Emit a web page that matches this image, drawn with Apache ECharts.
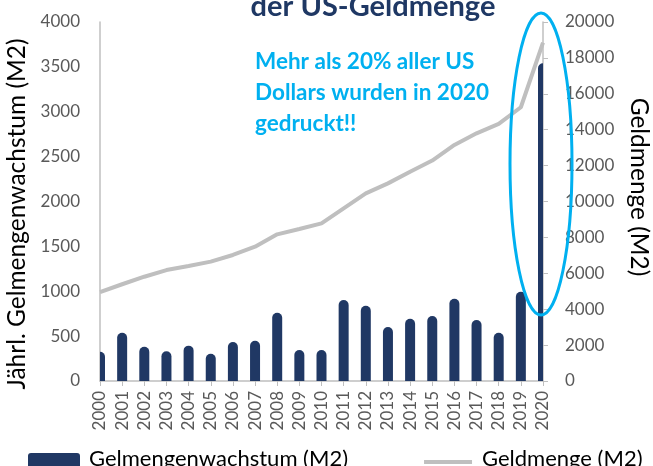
<!DOCTYPE html>
<html>
<head>
<meta charset="utf-8">
<script src="https://cdn.jsdelivr.net/npm/echarts@6/dist/echarts.min.js"></script>
<style>
    html, body { margin: 0; padding: 0; background: #fff; }
    #chart { width: 653px; height: 466px; }
</style>
</head>
<body>
<div id="chart"></div>
<script>
var years = ["2000", "2001", "2002", "2003", "2004", "2005", "2006", "2007", "2008", "2009", "2010",
    "2011", "2012", "2013", "2014", "2015", "2016", "2017", "2018", "2019", "2020"];
// jaehrliches Wachstum (linke Achse)
var growthM2 = [326, 538, 382, 331, 394, 304, 435, 449, 761, 345, 345,
    902, 839, 602, 694, 724, 917, 680, 538, 995, 3540];
// Geldmenge M2 (rechte Achse)
var totalM2 = [4950, 5390, 5810, 6180, 6410, 6650, 7020, 7480, 8170, 8470, 8780,
    9620, 10450, 11010, 11660, 12280, 13150, 13800, 14320, 15250, 18850];
var leftTicks = [0, 500, 1000, 1500, 2000, 2500, 3000, 3500, 4000];
var rightTicks = [0, 2000, 4000, 6000, 8000, 10000, 12000, 14000, 16000, 18000, 20000];

var barName = "Gelmengenwachstum (M2)";
var lineName = "Geldmenge (M2)";
var navy = "#203864";
var cyan = "#00B0F0";
var font = "Lato";

// Legenden-Icons: oben freier Raum, damit Icon tiefer sitzt als der Text
var barIcon = "path://M0,0 L1,0 M0,11 Q0,8 3,8 L49,8 Q52,8 52,11 L52,28 L0,28 Z";
var lineIcon = "path://M0,0 L1,0 M2,1 M2,15 L50,15 L50,19 L2,19 Z M0,28 L1,28";

var chart = echarts.init(document.getElementById("chart"));

function plain(v) {
    return String(v);
}

// Balken werden am Rand des Plots abgeschnitten (wie im Original)
function renderBar(params, api) {
    var top = api.coord([api.value(0), api.value(1)]);
    var base = api.coord([api.value(0), 0]);
    var w = 10;
    var cs = params.coordSys;
    return {
        type: "rect",
        shape: { x: top[0] - w / 2, y: top[1], width: w, height: base[1] - top[1], r: [5, 5, 0, 0] },
        style: { fill: navy },
        clipPath: {
            type: "rect",
            shape: { x: cs.x, y: cs.y, width: cs.width, height: cs.height }
        }
    };
}

var option = {
    animation: false,
    textStyle: { fontFamily: font },
    grid: { left: 100, right: 110, top: 22, bottom: 85, containLabel: false, outerBoundsMode: "none" },
    legend: {
        left: 23,
        top: 440,
        itemWidth: 52,
        itemHeight: 28,
        itemGap: 74,
        textStyle: { fontSize: 22, color: "#000", fontFamily: font, padding: [0, 0, 0, 4] },
        data: [
            { name: barName, icon: barIcon, itemStyle: { color: navy } },
            { name: lineName, icon: lineIcon, itemStyle: { color: "#BFBFBF" } }
        ]
    },
    xAxis: {
        type: "category",
        data: years,
        boundaryGap: false,
        axisLine: { lineStyle: { color: "#BFBFBF", width: 1.5 } },
        axisTick: { show: true, length: 5, lineStyle: { color: "#BFBFBF" } },
        axisLabel: { rotate: 90, fontSize: 17, color: "#595959", margin: 10, interval: 0 },
        splitLine: { show: false }
    },
    yAxis: [
        {
            type: "value",
            min: leftTicks[0],
            max: leftTicks[leftTicks.length - 1],
            interval: leftTicks[1] - leftTicks[0],
            name: "Jährl. Gelmengenwachstum (M2)",
            nameLocation: "middle",
            nameGap: 67,
            nameTextStyle: { fontSize: 24.5, color: "#000", padding: [0, 25, 0, 0] },
            axisLine: { show: true, lineStyle: { color: "#BFBFBF", width: 1.5 } },
            axisTick: { show: false },
            axisLabel: { fontSize: 17, color: "#595959", margin: 20, formatter: plain },
            splitLine: { show: false }
        },
        {
            type: "value",
            min: rightTicks[0],
            max: rightTicks[rightTicks.length - 1],
            interval: rightTicks[1] - rightTicks[0],
            name: lineName,
            nameLocation: "middle",
            nameRotate: -90,
            nameGap: 83,
            nameTextStyle: { fontSize: 24.5, color: "#000", padding: [0, 29, 0, 0] },
            axisLine: { show: true, lineStyle: { color: "#BFBFBF", width: 1.5 } },
            axisTick: { show: true, length: 5, lineStyle: { color: "#BFBFBF" } },
            axisLabel: { fontSize: 17, color: "#595959", margin: 22, formatter: plain },
            splitLine: { show: false }
        }
    ],
    series: [
        {
            name: barName,
            type: "custom",
            yAxisIndex: 0,
            data: growthM2.map(function(v, i) { return [i, v]; }),
            encode: { x: 0, y: 1 },
            renderItem: renderBar,
            itemStyle: { color: navy },
            z: 3
        },
        {
            name: lineName,
            type: "line",
            yAxisIndex: 1,
            data: totalM2,
            symbol: "none",
            lineStyle: { color: "#BFBFBF", width: 4 },
            itemStyle: { color: "#BFBFBF" },
            z: 2
        }
    ]
};

chart.setOption(option);

// Titel, Hinweis und Ellipse um das Jahr 2020
function addNotes() {
    var x2020 = chart.convertToPixel({ xAxisIndex: 0 }, "2020");
    chart.setOption({
        graphic: [
            {
                type: "text",
                style: {
                    x: 373, y: 21,
                    text: "der US-Geldmenge",
                    font: "bold 29px " + font,
                    fill: "#1F3864",
                    textAlign: "center",
                    textVerticalAlign: "bottom"
                }
            },
            {
                type: "text",
                style: {
                    x: 255, y: 46,
                    text: "Mehr als 20% aller US\nDollars wurden in 2020\ngedruckt!!",
                    font: "bold 22.5px " + font,
                    lineHeight: 31,
                    fill: cyan,
                    textAlign: "left",
                    textVerticalAlign: "top"
                }
            },
            {
                type: "ellipse",
                shape: { cx: x2020 - 2, cy: 164, rx: 31, ry: 151 },
                style: { fill: "none", stroke: cyan, lineWidth: 3 },
                z: 10
            }
        ]
    });
}

addNotes();
</script>
</body>
</html>
